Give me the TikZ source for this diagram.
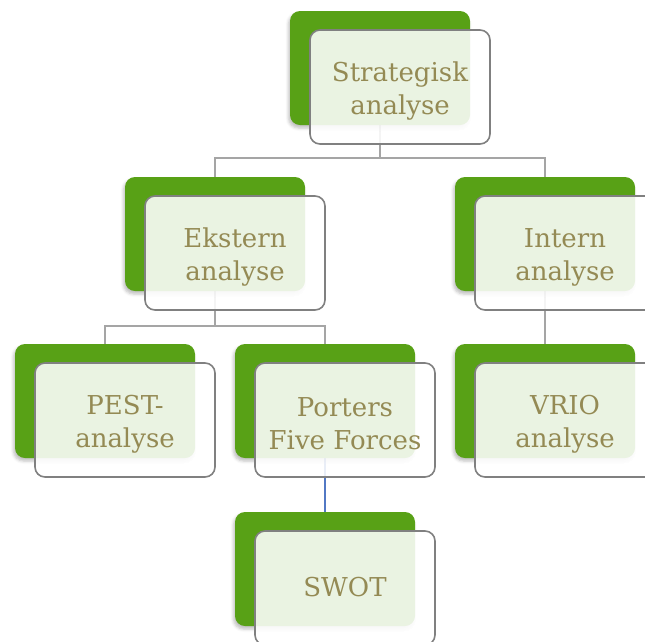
\documentclass[tikz,border=0pt]{standalone}
\usepackage{fontspec}
\setmainfont{DejaVu Serif}
\usetikzlibrary{shadows.blur}
\definecolor{leafgreen}{RGB}{88,161,22}
\definecolor{olivetext}{RGB}{148,138,84}
\definecolor{framegray}{RGB}{128,128,128}
\definecolor{linkgray}{RGB}{165,165,165}
\definecolor{linkblue}{RGB}{82,120,196}
\tikzset{
  cardsize/.style={rectangle, rounded corners=10pt,
    minimum width=180pt, minimum height=114pt, inner sep=0pt},
  anchorcard/.style={cardsize, draw=none, fill=none},
  backcard/.style={cardsize, fill=leafgreen,
    blur shadow={shadow xshift=-1.5pt, shadow yshift=-3pt, shadow blur radius=3pt, shadow opacity=25}},
  frontcard/.style={cardsize, draw=framegray, line width=1.6pt,
    fill=white, fill opacity=0.88},
  cardtext/.style={text=olivetext, align=center, inner sep=0pt,
    font=\fontsize{26}{33}\selectfont},
  link/.style={draw=linkgray, line width=1.3pt},
}
\begin{document}
\begin{tikzpicture}[x=1pt,y=-1pt]
\useasboundingbox (0,0) rectangle (645,641);
\clip (0,0) rectangle (645,641);

% centres of the green back cards
\path
  (380,68)  coordinate (cS)
  (215,234) coordinate (cE)
  (545,234) coordinate (cI)
  (105,401) coordinate (cP)
  (325,401) coordinate (cF)
  (545,401) coordinate (cV)
  (325,569) coordinate (cW);

% junction points of the tree
\coordinate (j1) at (380,158);
\coordinate (j2) at (215,326);

% invisible outlines used to attach the connectors
\node[anchorcard] (gS0) at (cS) {};
\node[anchorcard] (gE0) at (cE) {};
\node[anchorcard] (gI0) at (cI) {};
\node[anchorcard] (gP0) at (cP) {};
\node[anchorcard] (gF0) at (cF) {};
\node[anchorcard] (gV0) at (cV) {};
\node[anchorcard] (gW0) at (cW) {};

% connectors, drawn first so they lie under the cards
\draw[link] (gS0.south) -- (j1) -| (gE0.north);
\draw[link] (j1) -| (gI0.north);
\draw[link] (gE0.south) -- (j2) -| (gP0.north);
\draw[link] (j2) -| (gF0.north);
\draw[link] (gI0.south) -- (gV0.north);
\draw[link, draw=linkblue] (gF0.south) -- (gW0.north);

% green cards
\node[backcard] (gS) at (cS) {};
\node[backcard] (gE) at (cE) {};
\node[backcard] (gI) at (cI) {};
\node[backcard] (gP) at (cP) {};
\node[backcard] (gF) at (cF) {};
\node[backcard] (gV) at (cV) {};
\node[backcard] (gW) at (cW) {};

% white front cards
\node[frontcard] (wS) at ([shift={(20,19)}]cS) {};
\node[frontcard] (wE) at ([shift={(20,19)}]cE) {};
\node[frontcard] (wI) at ([shift={(20,19)}]cI) {};
\node[frontcard] (wP) at ([shift={(20,19)}]cP) {};
\node[frontcard] (wF) at ([shift={(20,19)}]cF) {};
\node[frontcard] (wV) at ([shift={(20,19)}]cV) {};
\node[frontcard] (wW) at ([shift={(20,19)}]cW) {};

% labels, set a little below the card centres
\node[cardtext] (tS) at ([yshift=-4pt]wS.center) {Strategisk\\analyse};
\node[cardtext] (tE) at ([yshift=-4pt]wE.center) {Ekstern\\analyse};
\node[cardtext] (tI) at ([yshift=-4pt]wI.center) {Intern\\analyse};
\node[cardtext] (tP) at ([yshift=-4pt]wP.center) {PEST-\\analyse};
\node[cardtext] (tF) at ([yshift=-4pt]wF.center) {Porters\\Five Forces};
\node[cardtext] (tV) at ([yshift=-4pt]wV.center) {VRIO\\analyse};
\node[cardtext] (tW) at ([yshift=1pt]wW.center) {SWOT};
\end{tikzpicture}
\end{document}
